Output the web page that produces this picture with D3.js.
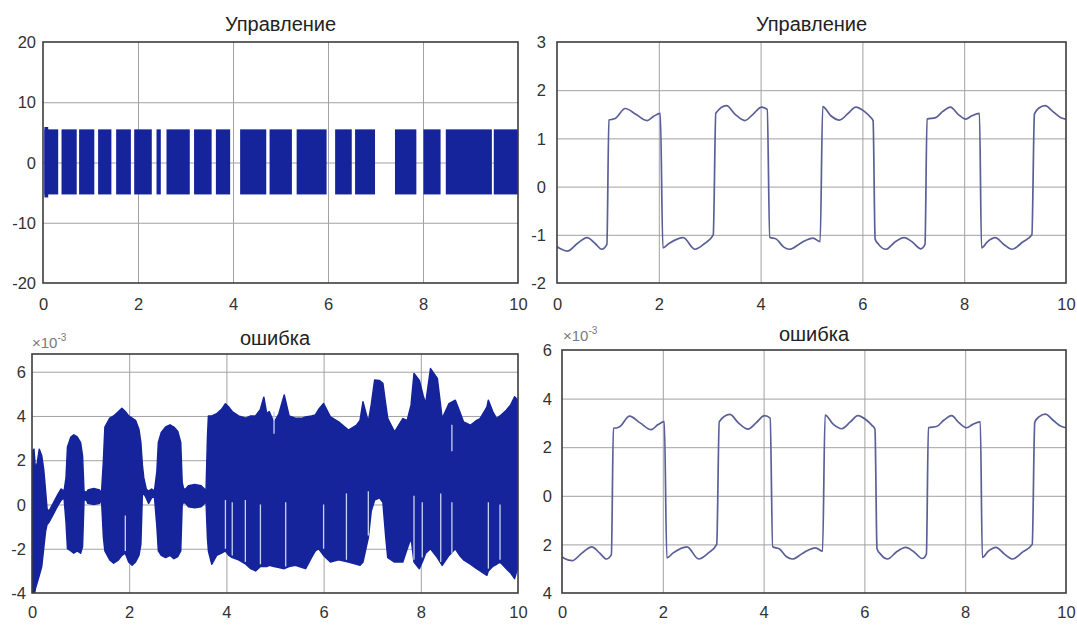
<!DOCTYPE html>
<html>
<head>
<meta charset="utf-8">
<script src="https://cdn.jsdelivr.net/npm/d3@7"></script>
<style>
  body { margin: 0; background: #fff; }
  svg { display: block; font-family: "Liberation Sans", Arial, sans-serif; }
</style>
</head>
<body>
<svg id="chart" width="1077" height="625"></svg>
<script>
// ---- data ----
const xTicks = [0, 2, 4, 6, 8, 10];

// top-left: relay control, dense switching blocks (time intervals)
const uBlockStart = [0.03, 0.39, 0.76, 1.16, 1.54, 1.92, 2.39, 2.60, 3.18, 3.64, 4.15, 4.77, 5.34, 6.15, 6.57, 7.41, 8.01, 8.48, 9.49];
const uBlockEnd   = [0.32, 0.71, 1.08, 1.44, 1.85, 2.29, 2.48, 3.09, 3.55, 3.94, 4.70, 5.24, 5.97, 6.50, 6.99, 7.86, 8.37, 9.45, 10.0];
const uHigh = 5.5, uLow = -5.3;
const uPeakSpan = [0.03, 0.11], uPeakHigh = 5.9, uPeakLow = -5.8;

// right column: smooth control and error (x10^-3), same sample times
const tSmooth = [0.00,0.05,0.20,0.40,0.59,0.75,0.88,0.98,1.02,1.10,1.15,1.34,1.55,1.77,1.90,2.03,
  2.08,2.20,2.48,2.71,2.90,3.07,3.12,3.33,3.50,3.69,3.85,4.02,4.13,4.18,4.31,4.45,4.57,4.75,4.86,
  5.03,5.17,5.22,5.38,5.55,5.72,5.87,6.05,6.15,6.21,6.25,6.32,6.46,6.64,6.82,6.98,7.15,7.23,7.27,
  7.44,7.58,7.73,7.88,8.03,8.15,8.30,8.34,8.46,8.61,8.78,8.94,9.15,9.33,9.38,9.47,9.59,9.75,9.90,10.0];
const uSmooth = [-1.25,-1.28,-1.34,-1.18,-1.06,-1.18,-1.30,-1.20,1.38,1.40,1.42,1.62,1.50,1.37,1.46,1.52,
  -1.27,-1.18,-1.06,-1.30,-1.18,-1.00,1.52,1.68,1.50,1.37,1.50,1.65,1.60,-1.05,-1.09,-1.25,-1.30,-1.20,-1.13,
  -1.07,-1.14,1.66,1.47,1.38,1.52,1.65,1.55,1.45,1.37,-1.09,-1.20,-1.30,-1.15,-1.06,-1.15,-1.29,-1.20,1.40,
  1.43,1.56,1.65,1.50,1.40,1.47,1.52,-1.27,-1.14,-1.06,-1.20,-1.30,-1.15,-1.00,1.51,1.63,1.68,1.55,1.43,1.40];
const eSmooth = [-2.52,-2.58,-2.67,-2.35,-2.10,-2.36,-2.60,-2.42,2.78,2.80,2.85,3.28,3.00,2.72,2.92,3.05,
  -2.56,-2.36,-2.10,-2.60,-2.36,-2.00,3.05,3.35,3.00,2.74,3.00,3.30,3.20,-2.10,-2.18,-2.50,-2.60,-2.40,-2.26,
  -2.14,-2.28,3.32,2.95,2.76,3.04,3.30,3.10,2.90,2.74,-2.18,-2.40,-2.60,-2.30,-2.12,-2.30,-2.58,-2.40,2.80,
  2.86,3.12,3.30,3.00,2.80,2.94,3.04,-2.54,-2.28,-2.12,-2.40,-2.60,-2.30,-2.00,3.02,3.26,3.36,3.10,2.86,2.80];

// bottom-left: envelope of the fast oscillating error (x10^-3)
const eT  = [0.00,0.04,0.07,0.11,0.15,0.20,0.24,0.28,0.31,0.35,0.40,0.46,0.53,0.60,0.66,0.70,0.73,0.80,0.86,0.93,
  1.00,1.04,1.07,1.12,1.15,1.27,1.39,1.43,1.47,1.50,1.60,1.68,1.78,1.85,1.92,1.99,2.06,2.13,2.20,2.24,2.27,2.30,
  2.35,2.40,2.46,2.52,2.57,2.60,2.66,2.75,2.84,2.92,3.00,3.06,3.09,3.12,3.16,3.22,3.35,3.48,3.55,3.58,3.61,3.63,
  3.70,3.80,3.90,3.98,4.05,4.12,4.25,4.40,4.50,4.60,4.70,4.77,4.83,4.88,4.98,5.08,5.19,5.29,5.42,5.56,5.63,5.75,
  5.83,5.90,6.00,6.14,6.31,6.51,6.68,6.75,6.81,6.92,6.98,7.05,7.15,7.22,7.28,7.32,7.46,7.63,7.72,7.80,7.86,7.97,
  8.05,8.10,8.20,8.34,8.44,8.58,8.71,8.80,8.88,9.02,9.15,9.22,9.36,9.39,9.48,9.56,9.63,9.76,9.85,9.93,10.0];
const eHi = [2.4,2.5,1.6,1.9,2.5,2.2,1.6,0.6,-0.2,-0.3,-0.1,0.15,0.45,0.7,0.6,1.2,2.6,3.05,3.15,3.05,
  2.8,2.2,0.6,0.55,0.65,0.72,0.65,0.5,2.0,3.5,3.9,4.0,4.2,4.35,4.2,4.0,3.9,3.8,3.4,2.8,1.8,1.2,
  0.7,0.6,0.7,0.6,1.5,2.8,3.25,3.5,3.6,3.5,3.3,2.8,1.0,0.7,0.7,0.85,0.9,0.85,0.7,0.5,3.0,4.0,
  4.0,4.1,4.3,4.55,4.4,4.2,4.0,3.9,4.0,4.0,4.3,4.85,4.1,4.2,3.7,4.1,4.95,4.0,3.9,3.9,3.95,4.0,
  4.05,4.3,4.56,3.96,3.73,3.36,3.59,3.8,4.64,3.73,4.5,5.62,5.6,5.47,4.5,3.88,3.28,3.88,3.8,4.5,5.92,5.6,
  4.9,4.56,6.14,5.7,3.88,4.56,4.71,4.2,3.73,3.58,3.8,3.88,4.4,4.71,4.2,3.88,4.0,4.26,4.5,4.87,4.7];
const eLo = [-4.2,-4.2,-3.8,-3.5,-3.2,-2.8,-2.0,-1.2,-0.9,-0.8,-0.6,-0.35,-0.05,0.2,0.3,-0.8,-2.0,-2.1,-2.2,-2.1,
  -2.2,-1.9,0.2,0.2,0.05,0.0,0.05,0.25,-1.5,-2.1,-2.5,-2.65,-2.5,-2.3,-2.2,-2.6,-2.75,-2.6,-2.3,-1.8,0.4,0.5,
  0.3,0.05,0.3,0.35,-1.0,-2.1,-2.3,-2.4,-2.3,-2.45,-2.35,-2.1,0.0,0.1,0.05,-0.1,-0.15,-0.1,0.05,0.2,-1.5,-2.1,
  -2.7,-2.3,-2.2,-2.1,-2.3,-2.4,-2.5,-2.7,-2.9,-3.0,-2.8,-2.8,-2.8,-2.75,-2.8,-2.85,-2.9,-2.8,-2.75,-2.85,-2.9,-2.4,
  -2.1,-2.0,-2.3,-2.6,-2.5,-2.6,-2.7,-2.75,-2.6,-1.5,-0.3,0.2,0.3,0.1,-1.5,-2.4,-2.6,-2.6,-2.0,-1.5,-2.6,-2.9,
  -2.5,-2.2,-2.0,-2.4,-2.75,-2.3,-2.0,-2.3,-2.5,-2.7,-2.9,-3.0,-3.2,-3.0,-2.8,-2.7,-2.6,-2.9,-3.1,-3.35,-2.8];
// thin light gaps inside the dense error band: [t, top, bottom]
const eGaps = [[1.92,-0.5,-2.1],[3.98,0.2,-2.0],[4.12,0.1,-2.3],[4.39,0.2,-2.6],[4.70,0.0,-2.7],
  [4.98,4.2,3.2],[5.22,0.1,-2.8],[6.00,0.0,-2.0],[6.47,0.5,-2.5],[6.92,0.6,-1.4],[7.86,0.4,-2.5],
  [8.03,0.1,-2.4],[8.41,0.5,-2.6],[8.64,3.6,2.4],[8.64,0.1,-2.2],[9.39,0.1,-2.9],[9.63,0.0,-2.5]];

const navy = '#15249a';
const thinBlue = '#5a6097';

const svg = d3.select('#chart');

function panel(cfg, idx) {
  const [x0, y0, x1, y1] = cfg.box;
  const x = d3.scaleLinear().domain([0, 10]).range([x0, x1]);
  const y = d3.scaleLinear().domain(cfg.yDom).range([y1, y0]);
  const g = svg.append('g');

  // grid
  g.append('g').attr('transform', `translate(0,${y1})`)
    .call(d3.axisBottom(x).tickValues(xTicks.slice(1, -1)).tickSize(-(y1 - y0)).tickFormat(''))
    .call(a => a.select('.domain').remove())
    .selectAll('line').attr('stroke', '#a2a2a2');
  g.append('g').attr('transform', `translate(${x0},0)`)
    .call(d3.axisLeft(y).tickValues(cfg.yTicks.filter(v => v > cfg.yDom[0] && v < cfg.yDom[1]))
      .tickSize(-(x1 - x0)).tickFormat(''))
    .call(a => a.select('.domain').remove())
    .selectAll('line').attr('stroke', '#a2a2a2');

  // tick labels
  g.append('g').attr('transform', `translate(0,${y1})`)
    .call(d3.axisBottom(x).tickValues(xTicks).tickSize(0).tickPadding(cfg.padX))
    .call(a => a.select('.domain').remove())
    .attr('font-size', 16.5).attr('font-family', null)
    .selectAll('text').attr('fill', '#333');
  g.append('g').attr('transform', `translate(${x0},0)`)
    .call(d3.axisLeft(y).tickValues(cfg.yTicks).tickSize(0).tickPadding(cfg.padY)
      .tickFormat(cfg.yFormat || (d => d)))
    .call(a => a.select('.domain').remove())
    .attr('font-size', 16.5).attr('font-family', null)
    .selectAll('text').attr('fill', '#333').attr('dy', '0.34em');

  // title
  g.append('text')
    .attr('x', (x0 + x1) / 2).attr('y', cfg.titleY)
    .attr('text-anchor', 'middle')
    .style('font-size', '20px').attr('fill', '#222')
    .text(cfg.title);

  // exponent label
  if (cfg.exp) {
    const t = g.append('text').attr('x', cfg.exp[0]).attr('y', cfg.exp[1])
      .style('font-size', '15px').attr('fill', '#7a7a7a');
    t.append('tspan').text('×10');
    t.append('tspan').attr('dy', -7).style('font-size', '10px').text('-3');
  }

  // clip for data
  svg.append('clipPath').attr('id', 'clip' + idx)
    .append('rect').attr('x', x0).attr('y', y0).attr('width', x1 - x0).attr('height', y1 - y0);
  const data = g.append('g').attr('clip-path', `url(#clip${idx})`);

  // box drawn after data
  const drawBox = () => g.append('rect')
    .attr('x', x0).attr('y', y0).attr('width', x1 - x0).attr('height', y1 - y0)
    .attr('fill', 'none').attr('stroke', '#3c3c3c').attr('stroke-width', 1.6);

  return { x, y, data, drawBox };
}

// ---- top-left: Управление (relay) ----
const tl = panel({ box: [43, 42, 518, 283], yDom: [-20, 20], yTicks: [-20, -10, 0, 10, 20],
  padX: 15, padY: 7, title: 'Управление', titleY: 31 }, 0);
tl.data.selectAll('rect.blk').data(d3.zip(uBlockStart, uBlockEnd)).enter().append('rect')
  .attr('class', 'blk')
  .attr('x', d => tl.x(d[0])).attr('width', d => tl.x(d[1]) - tl.x(d[0]))
  .attr('y', tl.y(uHigh)).attr('height', tl.y(uLow) - tl.y(uHigh))
  .attr('fill', navy);
tl.data.append('rect')
  .attr('x', tl.x(uPeakSpan[0])).attr('width', tl.x(uPeakSpan[1]) - tl.x(uPeakSpan[0]))
  .attr('y', tl.y(uPeakHigh)).attr('height', tl.y(uPeakLow) - tl.y(uPeakHigh))
  .attr('fill', navy);
tl.drawBox();

// ---- top-right: Управление (smooth) ----
const tr = panel({ box: [557, 42, 1066, 283], yDom: [-2, 3], yTicks: [-2, -1, 0, 1, 2, 3],
  padX: 15, padY: 11, title: 'Управление', titleY: 31 }, 1);
tr.data.append('path')
  .datum(d3.zip(tSmooth, uSmooth))
  .attr('d', d3.line().x(d => tr.x(d[0])).y(d => tr.y(d[1])).curve(d3.curveMonotoneX))
  .attr('fill', 'none').attr('stroke', thinBlue).attr('stroke-width', 1.7);
tr.drawBox();

// ---- bottom-left: ошибка (dense) ----
const bl = panel({ box: [32, 354, 518, 593], yDom: [-4, 6.8], yTicks: [-4, -2, 0, 2, 4, 6],
  padX: 13, padY: 6, title: 'ошибка', titleY: 345, exp: [32, 348] }, 2);
bl.data.append('path')
  .datum(eT.map((t, i) => [t, eHi[i], eLo[i]]))
  .attr('d', d3.area().x(d => bl.x(d[0])).y0(d => bl.y(d[2])).y1(d => bl.y(d[1])))
  .attr('fill', navy).attr('stroke', navy).attr('stroke-width', 1.5).attr('stroke-linejoin', 'round');
bl.data.selectAll('line.gap').data(eGaps).enter().append('line')
  .attr('class', 'gap')
  .attr('x1', d => bl.x(d[0])).attr('x2', d => bl.x(d[0]))
  .attr('y1', d => bl.y(d[1])).attr('y2', d => bl.y(d[2]))
  .attr('stroke', '#c9d1f0').attr('stroke-width', 1.3);
bl.drawBox();

// ---- bottom-right: ошибка (smooth) ----
const br = panel({ box: [562, 350, 1066, 593], yDom: [-4, 6], yTicks: [-4, -2, 0, 2, 4, 6],
  padX: 13, padY: 10, title: 'ошибка', titleY: 341, exp: [563, 341],
  yFormat: d => Math.abs(d) }, 3);
br.data.append('path')
  .datum(d3.zip(tSmooth, eSmooth))
  .attr('d', d3.line().x(d => br.x(d[0])).y(d => br.y(d[1])).curve(d3.curveMonotoneX))
  .attr('fill', 'none').attr('stroke', thinBlue).attr('stroke-width', 1.7);
br.drawBox();
</script>
</body>
</html>
